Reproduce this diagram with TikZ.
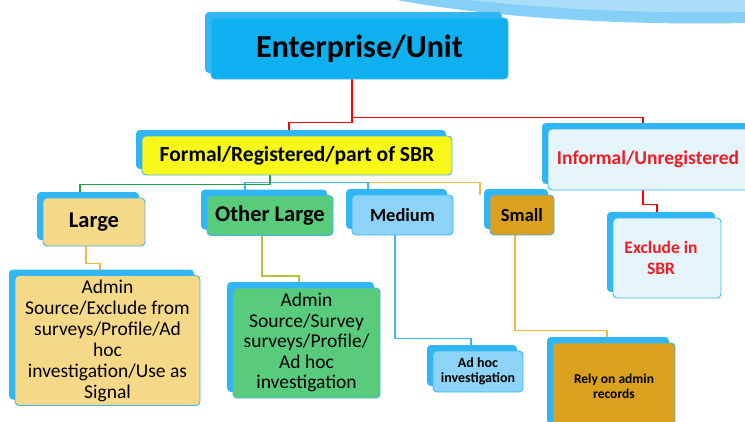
\documentclass[tikz,border=0pt]{standalone}
\usepackage{fontspec}
\setmainfont{Carlito}
\usetikzlibrary{shadows,backgrounds}
\definecolor{backblue}{HTML}{30B6F4}
\definecolor{bordblue}{HTML}{3DB7F0}
\definecolor{entblue}{HTML}{0EB0EF}
\definecolor{formalyel}{HTML}{F7F71A}
\definecolor{palebox}{HTML}{E6F4FC}
\definecolor{tan}{HTML}{F6D889}
\definecolor{grn}{HTML}{58CB7D}
\definecolor{medblue}{HTML}{8DD3F8}
\definecolor{gold}{HTML}{D9A11E}
\definecolor{redtxt}{HTML}{F01C24}
\definecolor{lgreen}{HTML}{1AA34A}
\definecolor{lorange}{HTML}{F2B840}
\definecolor{lolive}{HTML}{A9C93A}
\definecolor{wavea}{HTML}{A9DDF8}
\definecolor{waveb}{HTML}{86CFF6}
\begin{document}
\begin{tikzpicture}[x=1pt,y=-1pt,
  box/.style={rectangle, rounded corners=4pt, draw=bordblue, line width=0.9pt,
    inner sep=2pt, align=center,
    general shadow={fill=backblue, draw=none, shadow xshift=-6pt, shadow yshift=6pt}},
  conn/.style={line width=1.5pt},
  bfont/.style n args={2}{font=\bfseries\fontsize{#1}{#2}\selectfont}]
\useasboundingbox (0,0) rectangle (745,421);
\clip (0,0) rectangle (745,421);
% wave
\fill[waveb] (397,0) .. controls (470,14) and (600,26) .. (745,23) -- (745,0) -- cycle;
\fill[wavea] (470,0) .. controls (540,8) and (640,14) .. (745,12) -- (745,0) -- cycle;
% nodes
\node[box, fill=entblue, minimum width=297pt, minimum height=61pt, bfont={32}{35}] (ent) at (359.5,48.5) {Enterprise/Unit};
\node[box, fill=formalyel, minimum width=310pt, minimum height=39pt, bfont={21.5}{24}] (formal) at (297,155.5) {Formal/Registered/part of SBR};
\node[box, fill=palebox, minimum width=208pt, minimum height=61pt, bfont={19.5}{21}, text=redtxt] (informal) at (652,159.5) {\hspace*{-4pt}Informal/Unregistered\hspace*{4pt}};
\node[box, fill=palebox, minimum width=108pt, minimum height=80pt, bfont={17.5}{21}, text=redtxt] (excl) at (667,258) {\hspace*{-6pt}Exclude in\hspace*{6pt}\\\hspace*{-6pt}SBR\hspace*{6pt}};
\node[box, fill=tan, minimum width=102pt, minimum height=48pt, bfont={22.5}{24}] (large) at (94,222) {Large};
\node[box, fill=grn, minimum width=126pt, minimum height=40pt, bfont={22.5}{24}] (otherl) at (270,215.5) {Other Large};
\node[box, fill=medblue, minimum width=101pt, minimum height=40pt, bfont={18.5}{21}] (medium) at (402.5,215) {Medium};
\node[box, fill=gold, minimum width=64pt, minimum height=40pt, bfont={18.5}{21}] (small) at (522,215) {Small};
\node[box, fill=tan, minimum width=185pt, minimum height=130pt, font=\fontsize{19.5}{21}\selectfont] (largeD) at (107.5,340.5) {Admin\\Source/Exclude from\\surveys/Profile/Ad\\hoc\\investigation/Use as\\Signal};
\node[box, fill=grn, minimum width=147pt, minimum height=110pt, font=\fontsize{19.5}{20.5}\selectfont] (otherD) at (306.5,343) {Admin\\Source/Survey\\surveys/Profile/\\Ad hoc\\investigation\rule[-4pt]{0pt}{0pt}};
\node[box, fill=medblue, minimum width=90pt, minimum height=41pt, bfont={14}{15}] (adhoc) at (478,371.5) {Ad hoc\\investigation};
\node[box, fill=gold, minimum width=122pt, minimum height=87pt, bfont={13.5}{15}] (rely) at (614,386.5) {Rely on admin\\records};
% connectors
\begin{pgfonlayer}{background}
\draw[conn, red] ([xshift=-7.5pt]ent.south) -- ++(0,38) -| ([xshift=-9pt]informal.north);
\draw[conn, red] ([xshift=-7.5pt]ent.south) -- ++(0,43) -| ([xshift=-8pt]formal.north);
\draw[conn, red] ([xshift=-9pt]informal.south) -- ++(0,14) -| ([xshift=-10pt]excl.north);
\draw[conn, lorange] ([xshift=-27pt]formal.south) -- ++(0,7) -| ([xshift=-42pt]small.north);
\draw[conn, bordblue] ([xshift=-27pt]formal.south) -- ++(0,7) -| ([xshift=-34.5pt]medium.north);
\draw[conn, bordblue] ([xshift=-27pt]formal.south) -- ++(0,7) -| ([xshift=-25pt]otherl.north);
\draw[conn, lgreen] ([xshift=-27pt]formal.south) -- ++(0,9) -| ([xshift=-14pt]large.north);
\draw[conn, lorange] ([xshift=-8pt]large.south) -- ++(0,17) -| ([xshift=-7.5pt]largeD.north);
\draw[conn, lolive] ([xshift=-8pt]otherl.south) -- ++(0,40) -| ([xshift=-7.5pt]otherD.north);
\draw[conn, bordblue] ([xshift=-7.5pt]medium.south) -- ++(0,103) -| ([xshift=-7pt]adhoc.north);
\draw[conn, lorange] ([xshift=-7pt]small.south) -- ++(0,95) -| ([xshift=-7pt]rely.north);
\end{pgfonlayer}
\end{tikzpicture}
\end{document}
